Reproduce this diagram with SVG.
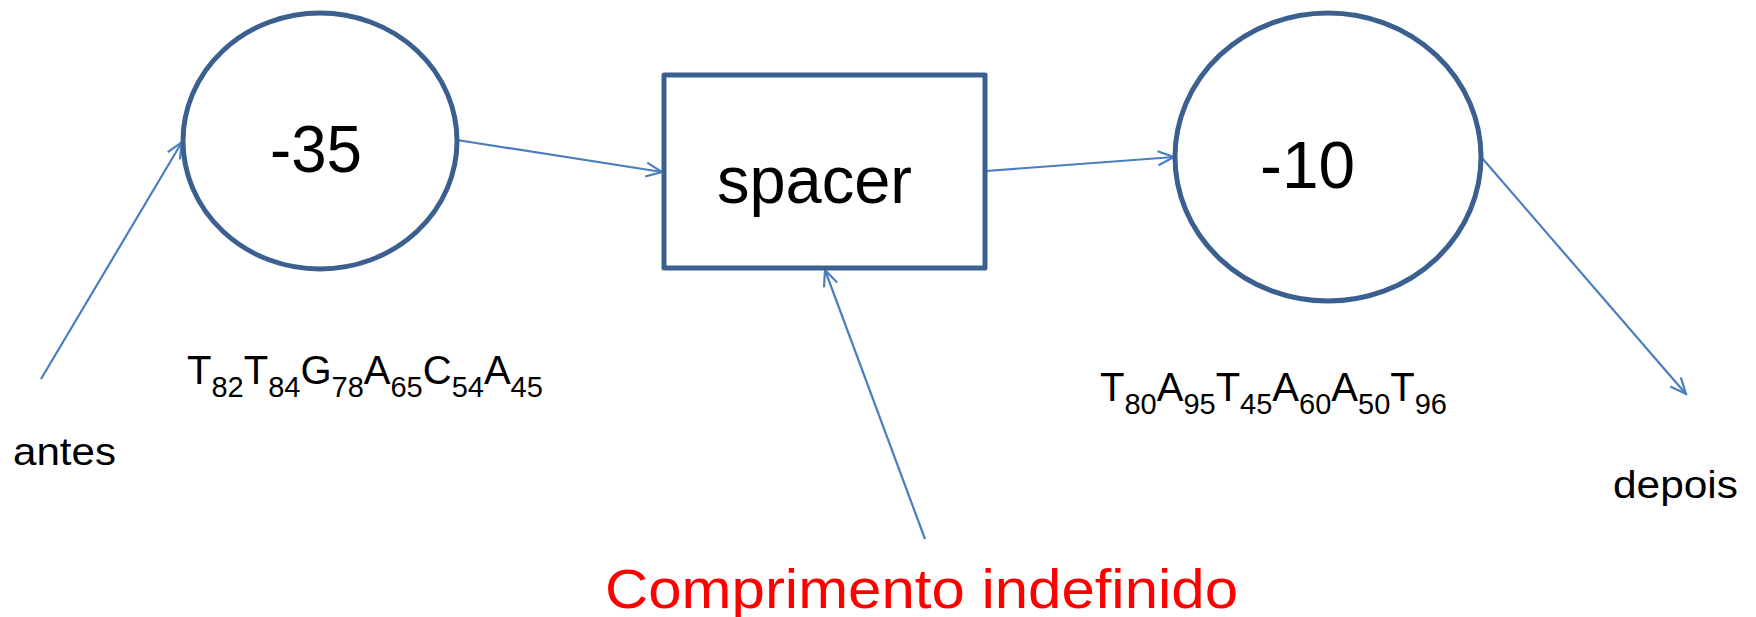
<svg xmlns="http://www.w3.org/2000/svg" width="1756" height="617" viewBox="0 0 1756 617">
  <style>
    .shape { fill: #ffffff; stroke: #3B6090; stroke-width: 5; stroke-linejoin: round; }
    .conn { fill: none; stroke: #4A7EBE; stroke-width: 2.2; marker-end: url(#open-arrow); }
    .label { font-family: "Liberation Sans", Arial, sans-serif; fill: #000000; }
    .big { font-size: 67px; }
    .seq { font-size: 40px; }
    .sub { font-size: 29px; }
    .note { font-size: 39px; }
    .red { fill: #FF0000; font-size: 56px; }
  </style>
  <defs>
    <marker id="open-arrow" markerUnits="userSpaceOnUse" viewBox="-18 -10 20 20" refX="0" refY="0" markerWidth="20" markerHeight="20" orient="auto">
      <path d="M-16,-7 L0,0 L-16,7" fill="none" stroke="#4A7EBE" stroke-width="2.2"/>
    </marker>
  </defs>
  <rect width="1756" height="617" fill="#ffffff"/>

  <!-- connectors -->
  <g id="connectors">
    <line class="conn" x1="41" y1="379" x2="182" y2="142"/>
    <line class="conn" x1="457" y1="140" x2="662" y2="172"/>
    <line class="conn" x1="986" y1="171" x2="1174" y2="157"/>
    <line class="conn" x1="1482" y1="158" x2="1686" y2="394"/>
    <line class="conn" x1="925" y1="539" x2="825" y2="270"/>
  </g>

  <!-- -35 box -->
  <g id="node-35">
    <ellipse class="shape" cx="320" cy="141" rx="137" ry="128"/>
    <text class="label big" x="270" y="172" textLength="92" lengthAdjust="spacingAndGlyphs">-35</text>
  </g>

  <!-- spacer -->
  <g id="node-spacer">
    <rect class="shape" x="664" y="75" width="321" height="193"/>
    <text class="label big" x="717" y="203" textLength="195" lengthAdjust="spacingAndGlyphs">spacer</text>
  </g>

  <!-- -10 box -->
  <g id="node-10">
    <ellipse class="shape" cx="1328" cy="157" rx="153" ry="144"/>
    <text class="label big" x="1260" y="188" textLength="95" lengthAdjust="spacingAndGlyphs">-10</text>
  </g>

  <!-- consensus sequences -->
  <g id="seq-35">
    <text class="label seq" x="187" y="384">T<tspan class="sub" dy="13">82</tspan><tspan dy="-13">T</tspan><tspan class="sub" dy="13">84</tspan><tspan dy="-13">G</tspan><tspan class="sub" dy="13">78</tspan><tspan dy="-13">A</tspan><tspan class="sub" dy="13">65</tspan><tspan dy="-13">C</tspan><tspan class="sub" dy="13">54</tspan><tspan dy="-13">A</tspan><tspan class="sub" dy="13">45</tspan></text>
  </g>
  <g id="seq-10">
    <text class="label seq" x="1100" y="401">T<tspan class="sub" dy="13">80</tspan><tspan dy="-13">A</tspan><tspan class="sub" dy="13">95</tspan><tspan dy="-13">T</tspan><tspan class="sub" dy="13">45</tspan><tspan dy="-13">A</tspan><tspan class="sub" dy="13">60</tspan><tspan dy="-13">A</tspan><tspan class="sub" dy="13">50</tspan><tspan dy="-13">T</tspan><tspan class="sub" dy="13">96</tspan></text>
  </g>

  <!-- side labels -->
  <g id="label-antes">
    <text class="label note" x="13" y="465" textLength="103" lengthAdjust="spacingAndGlyphs">antes</text>
  </g>
  <g id="label-depois">
    <text class="label note" x="1613" y="498" textLength="125" lengthAdjust="spacingAndGlyphs">depois</text>
  </g>
  <g id="label-comprimento">
    <text class="label red" x="605" y="608" textLength="633" lengthAdjust="spacingAndGlyphs">Comprimento indefinido</text>
  </g>
</svg>
